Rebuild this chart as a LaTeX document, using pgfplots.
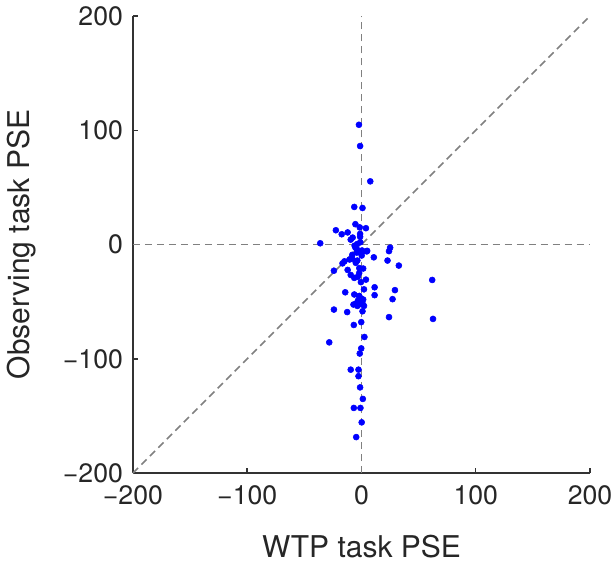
\documentclass[border=0pt]{standalone}
\usepackage{pgfplots}
\pgfplotsset{compat=1.18}
\usepackage{fontspec}
\setmainfont{TeX Gyre Heros}
\begin{document}
\begin{tikzpicture}
\begin{axis}[
  name=ax,
  width=343pt, height=343pt, scale only axis,
  xmin=-200, xmax=200, ymin=-200, ymax=200,
  axis x line*=bottom, axis y line*=left,
  axis line style={color=black!80, line width=1.1pt},
  xtick={-200,-100,0,100,200}, ytick={-200,-100,0,100,200},
  xticklabels={−200,−100,0,100,200},
  yticklabels={−200,−100,0,100,200},
  tick align=inside, major tick length=4pt,
  tick style={color=black!80, line width=1.1pt},
  ticklabel style={font=\fontsize{20}{23}\selectfont, color=black!85},
  xticklabel style={yshift=-6pt},
  yticklabel style={xshift=-4pt},
  xlabel={WTP task PSE}, ylabel={Observing task PSE},
  label style={font=\fontsize{22.5}{27}\selectfont, color=black!85},
  xlabel style={yshift=-16pt},
  ylabel style={yshift=13pt},
  clip=false,
]
\addplot[color=black!50, line width=1.2pt, dash pattern=on 5.5pt off 3.5pt] coordinates {(0,-200) (0,200)};
\addplot[color=black!50, line width=1.2pt, dash pattern=on 5.5pt off 3.5pt] coordinates {(-200,0) (200,0)};
\addplot[color=black!50, line width=1.2pt, dash pattern=on 5.5pt off 3.5pt] coordinates {(-200,-200) (200,200)};
\addplot[only marks, mark=*, mark size=2.25pt, color=blue, fill=blue] coordinates {
(-2.2,104.8) (-1.2,86.2) (7.7,55.3) (-6.3,32.9) (0.9,32.0)
(-22.4,12.5) (-5.3,17.8) (3.9,14.3) (-1.5,15.0) (-17.3,9.0)
(-12.1,10.6) (-1.2,9.3) (-1.2,6.8) (-7.7,6.1) (-9.4,4.3)
(-36.1,1.1) (-3.6,0.5) (-5.3,-2.7) (-3.9,-4.3) (0.5,-5.2)
(5.0,-5.5) (25.1,-2.7) (24.1,-5.8) (-8.0,-9.0) (0.2,-9.6)
(10.8,-11.2) (22.8,-14.0) (-14.9,-14.7) (-16.6,-16.5) (-10.4,-13.1)
(-3.6,-14.0) (32.7,-18.4) (-24.1,-22.9) (-12.1,-22.2) (-1.9,-20.6)
(1.5,-21.0) (-9.4,-26.6) (-6.3,-29.2) (-3.2,-28.2) (3.9,-30.7)
(-0.5,-32.9) (61.9,-31.0) (11.5,-37.4) (29.3,-39.9) (2.2,-39.2)
(-14.2,-41.8) (-6.3,-43.7) (11.5,-44.3) (-1.9,-45.2) (27.2,-47.8)
(1.5,-48.1) (-4.6,-51.5) (-1.9,-52.4) (0.9,-51.5) (-7.0,-52.5)
(2.2,-53.7) (-3.6,-53.7) (-24.1,-56.9) (0.9,-58.4) (-12.5,-59.1)
(24.1,-63.5) (62.6,-65.1) (-6.7,-70.4) (-0.2,-67.9) (2.6,-80.9)
(-28.2,-85.6) (-0.2,-90.9) (-1.5,-95.4) (-9.4,-109.5) (-2.6,-109.5)
(-2.6,-115.2) (-1.2,-125.0) (1.2,-135.1) (-6.7,-143.0) (-0.9,-143.0)
(0.2,-155.6) (-4.6,-168.5)
(-1.0,2.0) (-6.0,-1.0) (1.3,-6.0) (4.6,-6.0) (-8.0,-12.5) (-4.0,-7.0)
(-2.0,-45.0) (0.5,-48.0) (-3.0,-49.0) (-5.0,-16.0) (-2.0,-25.0)
};
\end{axis}
\pgfresetboundingbox
\path ([xshift=-99.75pt, yshift=-69pt]ax.south west) rectangle ([xshift=18pt, yshift=12pt]ax.north east);
\end{tikzpicture}
\end{document}
